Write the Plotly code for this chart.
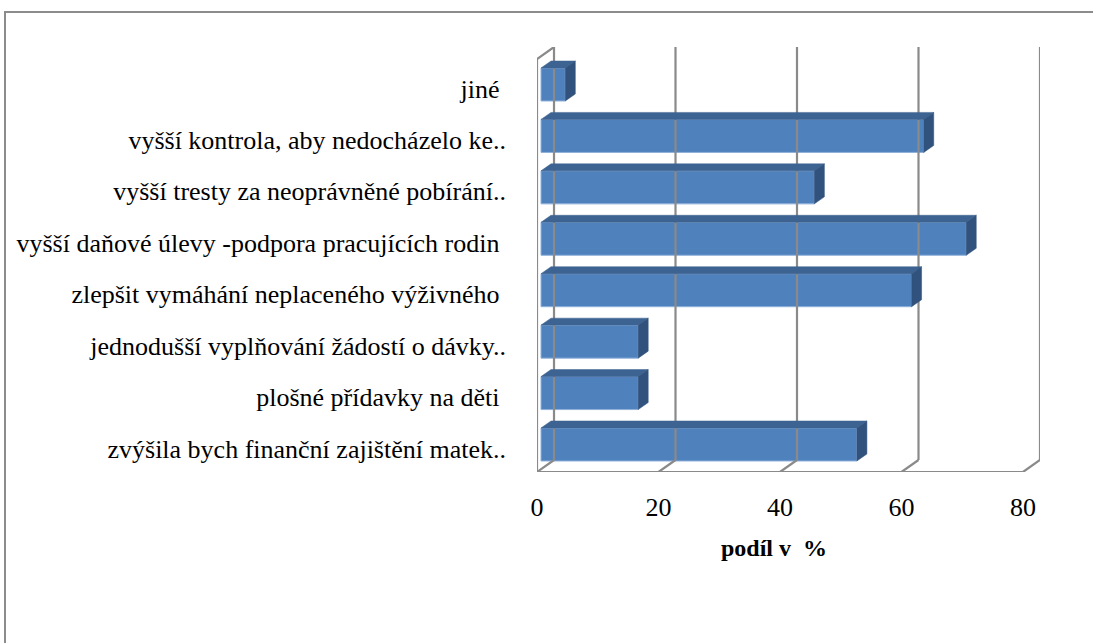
"""
    podil odpovedi - 3D pruhovy graf
"""

import plotly.graph_objects as go

categories = [
    "zvýšila bych finanční zajištění matek..",
    "plošné přídavky na děti\u00a0",
    "jednodušší vyplňování žádostí o dávky..",
    "zlepšit vymáhání neplaceného výživného\u00a0",
    "vyšší daňové úlevy -podpora pracujících rodin\u00a0",
    "vyšší tresty za neoprávněné pobírání..",
    "vyšší kontrola, aby nedocházelo ke..",
    "jiné\u00a0",
]
values = [52, 16, 16, 61, 70, 45, 63, 4]
x_ticks = [0, 20, 40, 60, 80]
x_title = "<b>podíl v \u00a0%</b>"

FONT = "Liberation Serif"
GRID = "#8a8a8a"
FRONT = "#4f81bd"
TOP = "#3c6391"
SIDE = "#30527d"

# "3D" geometry in data units
DX, DY = 2.8, 0.233          # depth of the whole box
OFF = 0.66                   # bar front offset from wall
BDX, BDY = 1.646, 0.136      # bar depth
H = 0.321                    # half bar height
Y0, Y1 = -0.535, 7.729       # floor front / wall top
X_MAX = x_ticks[-1]

idx = list(range(len(categories)))

fig = go.Figure()

# walls and gridlines
wx, wy = [], []
for t in x_ticks:
    # back wall vertical
    wx += [t + DX, t + DX, None]
    wy += [Y0 + DY, Y1, None]
    # floor diagonal
    wx += [t, t + DX, None]
    wy += [Y0, Y0 + DY, None]
# left wall front edge
wx += [0, 0, DX, None]
wy += [Y0, Y1 - DY, Y1, None]
# floor front edge
wx += [0, X_MAX, None]
wy += [Y0, Y0, None]
fig.add_trace(go.Scatter(x=wx, y=wy, mode="lines",
                         line=dict(color=GRID, width=2.2),
                         hoverinfo="skip", showlegend=False))

# top faces and side faces of the bars
tx, ty, sx, sy = [], [], [], []
for c, v in zip(idx, values):
    tx += [OFF, OFF + v, OFF + v + BDX, OFF + BDX, OFF, None]
    ty += [c + H, c + H, c + H + BDY, c + H + BDY, c + H, None]
    sx += [OFF + v, OFF + v, OFF + v + BDX, OFF + v + BDX, OFF + v, None]
    sy += [c - H, c + H, c + H + BDY, c - H + BDY, c - H, None]
fig.add_trace(go.Scatter(x=tx, y=ty, mode="lines", fill="toself",
                         fillcolor=TOP, line=dict(color=TOP, width=0.5),
                         hoverinfo="skip", showlegend=False))
fig.add_trace(go.Scatter(x=sx, y=sy, mode="lines", fill="toself",
                         fillcolor=SIDE, line=dict(color=SIDE, width=0.5),
                         hoverinfo="skip", showlegend=False))

# front faces
fig.add_trace(go.Bar(
    y=idx, x=values, base=OFF, orientation="h", width=2 * H,
    marker=dict(color=FRONT, line=dict(color="#8fb0da", width=1)),
    showlegend=False,
))

fig.update_layout(
    width=1093, height=643,
    margin=dict(l=0, r=0, t=0, b=0),
    paper_bgcolor="white", plot_bgcolor="rgba(0,0,0,0)",
    font=dict(family=FONT, size=26, color="black"),
    showlegend=False,
    xaxis=dict(
        domain=[537 / 1093, 1040 / 1093],
        range=[0, X_MAX + DX],
        tickvals=x_ticks, ticktext=[str(t) for t in x_ticks],
        tickfont=dict(family=FONT, size=26, color="black"),
        showgrid=False, zeroline=False, showline=False, ticks="",
        ticklabelstandoff=17,
        automargin=False,
    ),
    yaxis=dict(
        domain=[(643 - 472) / 643, (643 - 47) / 643],
        range=[Y0, Y1],
        tickvals=idx, ticktext=categories,
        tickfont=dict(family=FONT, size=26, color="black"),
        showgrid=False, zeroline=False, showline=False, ticks="",
        ticklabelstandoff=30, ticklabelshift=4,
        automargin=False,
    ),
    annotations=[dict(
        text=x_title, xref="x", yref="paper", x=39, y=(643 - 548) / 643,
        showarrow=False, font=dict(size=24, family=FONT, color="black"),
        xanchor="center", yanchor="middle",
    )],
    shapes=[dict(
        type="rect", xref="paper", yref="paper",
        x0=5 / 1093, x1=1.01, y0=-0.01, y1=(643 - 12) / 643,
        line=dict(color="#8c8c8c", width=2), fillcolor="rgba(0,0,0,0)",
        layer="below",
    )],
)

fig.write_html("out.html", config={"displayModeBar": False},
               post_script="document.body.style.margin='0';")
